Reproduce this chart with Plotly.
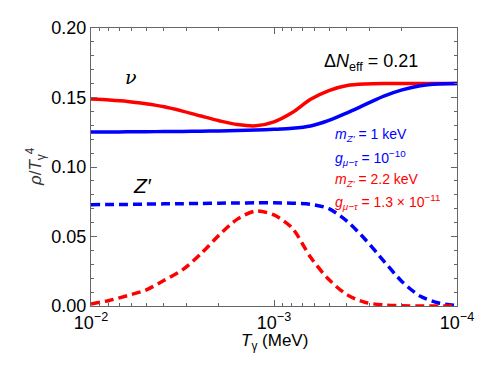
import plotly.graph_objects as go

# Photon temperature grid, log10(T/MeV) from -2 to -4
log_T = [-2.0, -2.1, -2.2, -2.3, -2.4, -2.5, -2.6, -2.7, -2.8, -2.9, -3.0,
         -3.1, -3.2, -3.3, -3.4, -3.5, -3.6, -3.7, -3.8, -3.9, -4.0]
T_gamma = [10 ** v for v in log_T]

# rho / T_gamma^4
nu_red = [0.1489, 0.1482, 0.1472, 0.1455, 0.1433, 0.1402, 0.1367, 0.1333, 0.1305, 0.1296, 0.1325,
          0.1392, 0.1487, 0.1550, 0.1586, 0.1597, 0.1600, 0.1600, 0.1600, 0.1600, 0.1600]
nu_blue = [0.1252, 0.1252, 0.1253, 0.1254, 0.1255, 0.1256, 0.1258, 0.1259, 0.1262, 0.1266, 0.1271,
           0.1278, 0.1295, 0.1335, 0.1390, 0.1450, 0.1510, 0.1555, 0.1585, 0.1597, 0.1600]
zp_blue = [0.0729, 0.0730, 0.0731, 0.0733, 0.0735, 0.0736, 0.0738, 0.0740, 0.0741, 0.0742, 0.0742,
           0.0740, 0.0732, 0.0700, 0.0609, 0.0477, 0.0323, 0.0175, 0.0070, 0.0022, 0.0003]
zp_red = [0.0015, 0.0040, 0.0075, 0.0115, 0.0185, 0.0260, 0.0375, 0.0510, 0.0625, 0.0683, 0.0655,
          0.0560, 0.0350, 0.0190, 0.0080, 0.0025, 0.0008, 0.0002, 0.0000, 0.0000, 0.0000]

y_ticks = [0.0, 0.05, 0.10, 0.15, 0.20]
y_tick_text = ["0.00", "0.05", "0.10", "0.15", "0.20"]
x_ticks = [1e-2, 1e-3, 1e-4]
x_tick_text = ["10<sup>−2</sup>", "10<sup>−3</sup>", "10<sup>−4</sup>"]

RED = "#ff0000"
BLUE = "#0000ff"
FONT = "Liberation Sans, Arial, sans-serif"

fig = go.Figure()
fig.add_trace(go.Scatter(x=T_gamma, y=nu_red, mode="lines",
                         line=dict(color=RED, width=3.5, shape="spline", smoothing=0.8)))
fig.add_trace(go.Scatter(x=T_gamma, y=nu_blue, mode="lines",
                         line=dict(color=BLUE, width=3.5, shape="spline", smoothing=0.8)))
fig.add_trace(go.Scatter(x=T_gamma, y=zp_blue, mode="lines",
                         line=dict(color=BLUE, width=3.5, dash="9px,5px", shape="spline", smoothing=0.8)))
fig.add_trace(go.Scatter(x=T_gamma, y=zp_red, mode="lines",
                         line=dict(color=RED, width=3.5, dash="9px,5px", shape="spline", smoothing=0.8)))

axis_common = dict(showline=True, linecolor="#666666", linewidth=1.2, mirror="allticks",
                   ticks="inside", tickcolor="#666666", showgrid=False, zeroline=False,
                   automargin=False,
                   tickfont=dict(family=FONT, size=18, color="black"))

fig.update_xaxes(type="log", range=[-2, -4], tickvals=x_ticks, ticktext=x_tick_text,
                 ticklen=6,
                 minor=dict(ticks="inside", ticklen=3, tickcolor="#666666", dtick="D1", showgrid=False),
                 **axis_common)
fig.update_yaxes(range=[0, 0.2], tickvals=y_ticks, ticktext=y_tick_text, ticklen=6,
                 minor=dict(ticks="inside", ticklen=3, tickcolor="#666666", dtick=0.01, showgrid=False),
                 **axis_common)

annotations = [
    dict(x=-2.22, y=0.1645, text="<i>ν</i>", font=dict(family="DejaVu Serif, serif", size=19, color="black")),
    dict(x=-2.28, y=0.0865, text="<i>Z′</i>", font=dict(family=FONT, size=21, color="black")),
    dict(x=-3.53, y=0.1755, text="Δ<i>N</i><sub>eff</sub> = 0.21", font=dict(family=FONT, size=18, color="black")),
    dict(x=-0.153, xref="paper", y=0.5, yref="paper", textangle=-90,
         text="<i>ρ</i>/<i>T</i><sub>γ</sub><sup>4</sup>", font=dict(family=FONT, size=17, color="#333333")),
    dict(x=0.5, xref="paper", y=-0.13, yref="paper",
         text="<i>T</i><sub>γ</sub> (MeV)", font=dict(family=FONT, size=17, color="black")),
]
legend_lines = [
    ("<i>m</i><sub><i>Z′</i></sub> = 1 keV", BLUE, 0.1230),
    ("<i>g</i><sub><i>μ−τ</i></sub> = 10<sup>−10</sup>", BLUE, 0.1065),
    ("<i>m</i><sub><i>Z′</i></sub> = 2.2 keV", RED, 0.0905),
    ("<i>g</i><sub><i>μ−τ</i></sub> = 1.3 × 10<sup>−11</sup>", RED, 0.0745),
]
for txt, col, yv in legend_lines:
    annotations.append(dict(x=0.662, xref="paper", y=yv, text=txt, xanchor="left",
                            font=dict(family=FONT, size=14, color=col)))
for a in annotations:
    a.setdefault("xref", "x")
    a.setdefault("yref", "y")
    a.setdefault("xanchor", "center")
    a.setdefault("yanchor", "middle")
    a.setdefault("showarrow", False)

fig.update_layout(width=498, height=374, margin=dict(l=91, r=41, t=28, b=68),
                  plot_bgcolor="white", paper_bgcolor="white", showlegend=False,
                  annotations=annotations)

fig.write_html("out.html", config={"displayModeBar": False},
               post_script="document.body.style.margin='0';")
